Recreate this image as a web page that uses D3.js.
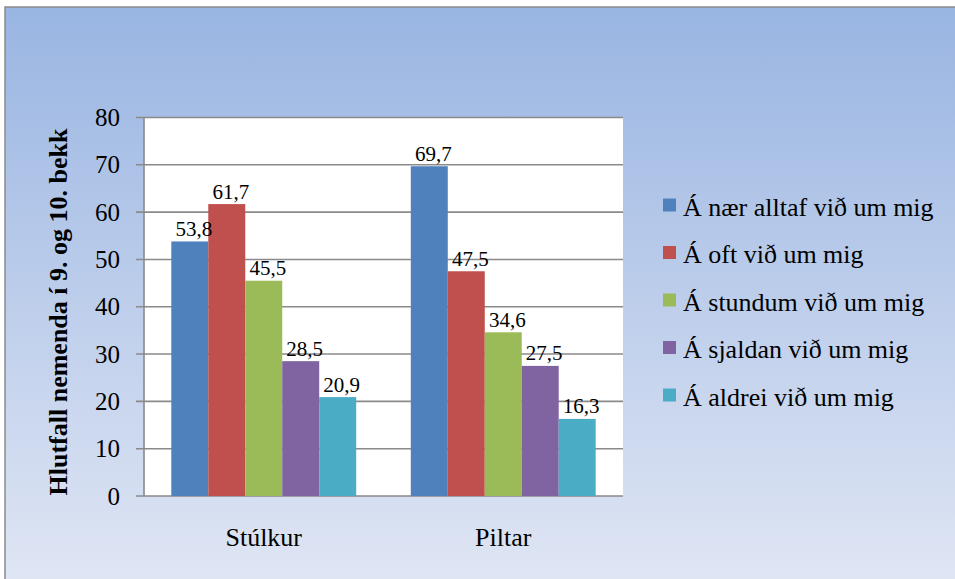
<!DOCTYPE html>
<html>
<head>
<meta charset="utf-8">
<script src="https://cdn.jsdelivr.net/npm/d3@7"></script>
<style>
  html, body { margin: 0; padding: 0; background: #ffffff; }
  svg { display: block; }
  svg text { font-family: "Liberation Serif", "Times New Roman", Tinos, serif; }
</style>
</head>
<body>
<svg id="chart" width="955" height="579"></svg>
<script>
// Share of pupils in grades 9 and 10, by gender and response
const categories = ["Stúlkur", "Piltar"];
const seriesNames = [
  "Á nær alltaf við um mig",
  "Á oft við um mig",
  "Á stundum við um mig",
  "Á sjaldan við um mig",
  "Á aldrei við um mig"
];
const stulkur = [53.8, 61.7, 45.5, 28.5, 20.9];
const piltar = [69.7, 47.5, 34.6, 27.5, 16.3];
const yTicks = [0, 10, 20, 30, 40, 50, 60, 70, 80];
const colors = ["#4f81bd", "#c0504d", "#9bbb59", "#8064a2", "#4bacc6"];
const yTitle = "Hlutfall nemenda í 9. og 10. bekk";

const values = [stulkur, piltar];

const svg = d3.select("#chart");

// chart background with vertical gradient
const defs = svg.append("defs");
const grad = defs.append("linearGradient")
  .attr("id", "bg").attr("x1", 0).attr("y1", 0).attr("x2", 0).attr("y2", 1);
grad.append("stop").attr("offset", "0%").attr("stop-color", "#99b5e2");
grad.append("stop").attr("offset", "100%").attr("stop-color", "#e0e6f4");

svg.append("rect")
  .attr("x", 5).attr("y", 7).attr("width", 960).attr("height", 580)
  .attr("fill", "url(#bg)")
  .attr("stroke", "#8a8a8a").attr("stroke-width", 1.5);

const plot = { left: 144, right: 623, top: 117.5, bottom: 496 };

// plot area
svg.append("rect")
  .attr("x", plot.left).attr("y", plot.top)
  .attr("width", plot.right - plot.left).attr("height", plot.bottom - plot.top)
  .attr("fill", "#ffffff");

const x0 = d3.scaleBand().domain(categories).range([plot.left, plot.right]).paddingInner(0.228).paddingOuter(0.114);
const x1 = d3.scaleBand().domain(d3.range(seriesNames.length)).range([0, x0.bandwidth()]);
const y = d3.scaleLinear().domain([0, 80]).range([plot.bottom, plot.top]);

// gridlines with short ticks left of the axis
svg.append("g")
  .selectAll("line").data(yTicks).join("line")
  .attr("x1", plot.left - 8).attr("x2", plot.right)
  .attr("y1", d => y(d)).attr("y2", d => y(d))
  .attr("stroke", "#8a8a8a").attr("stroke-width", 1.6);

// y axis line
svg.append("line")
  .attr("x1", plot.left).attr("x2", plot.left)
  .attr("y1", plot.top).attr("y2", plot.bottom)
  .attr("stroke", "#8a8a8a").attr("stroke-width", 1.6);

// y tick labels
yTicks.forEach(d => {
  svg.append("text")
    .attr("x", plot.left - 24).attr("y", y(d) + 8.5)
    .attr("text-anchor", "end")
    .attr("font-size", 25).attr("fill", "#000")
    .text(d);
});

// bars
const groups = svg.append("g").selectAll("g").data(categories).join("g")
  .attr("transform", c => `translate(${x0(c)},0)`);

groups.selectAll("rect")
  .data((c, i) => values[i].map((v, j) => ({ v, j })))
  .join("rect")
  .attr("x", d => x1(d.j)).attr("width", x1.bandwidth())
  .attr("y", d => y(d.v)).attr("height", d => y(0) - y(d.v))
  .attr("fill", d => colors[d.j]);

// value labels above bars
categories.forEach((c, i) => {
  values[i].forEach((v, j) => {
    svg.append("text")
      .attr("x", x0(c) + x1(j) + x1.bandwidth() / 2 + 4)
      .attr("y", y(v) - 5.5)
      .attr("text-anchor", "middle")
      .attr("font-size", 21).attr("fill", "#000")
      .text(d3.format(".1f")(v).replace(".", ","));
  });
});

// category labels
categories.forEach(c => {
  svg.append("text")
    .attr("x", x0(c) + x0.bandwidth() / 2)
    .attr("y", 546)
    .attr("text-anchor", "middle")
    .attr("font-size", 26).attr("fill", "#000")
    .text(c);
});

// y axis title
svg.append("text")
  .attr("transform", `translate(67,312) rotate(-90)`)
  .attr("text-anchor", "middle")
  .attr("font-size", 26).attr("font-weight", "bold").attr("fill", "#000")
  .text(yTitle);

// legend
seriesNames.forEach((name, i) => {
  const cy = 205 + i * 47.5;
  svg.append("rect")
    .attr("x", 663).attr("y", cy - 6.5).attr("width", 13).attr("height", 13)
    .attr("fill", colors[i]);
  svg.append("text")
    .attr("x", 683).attr("y", cy + 10.5)
    .attr("font-size", 26).attr("fill", "#000")
    .text(name);
});
</script>
</body>
</html>
